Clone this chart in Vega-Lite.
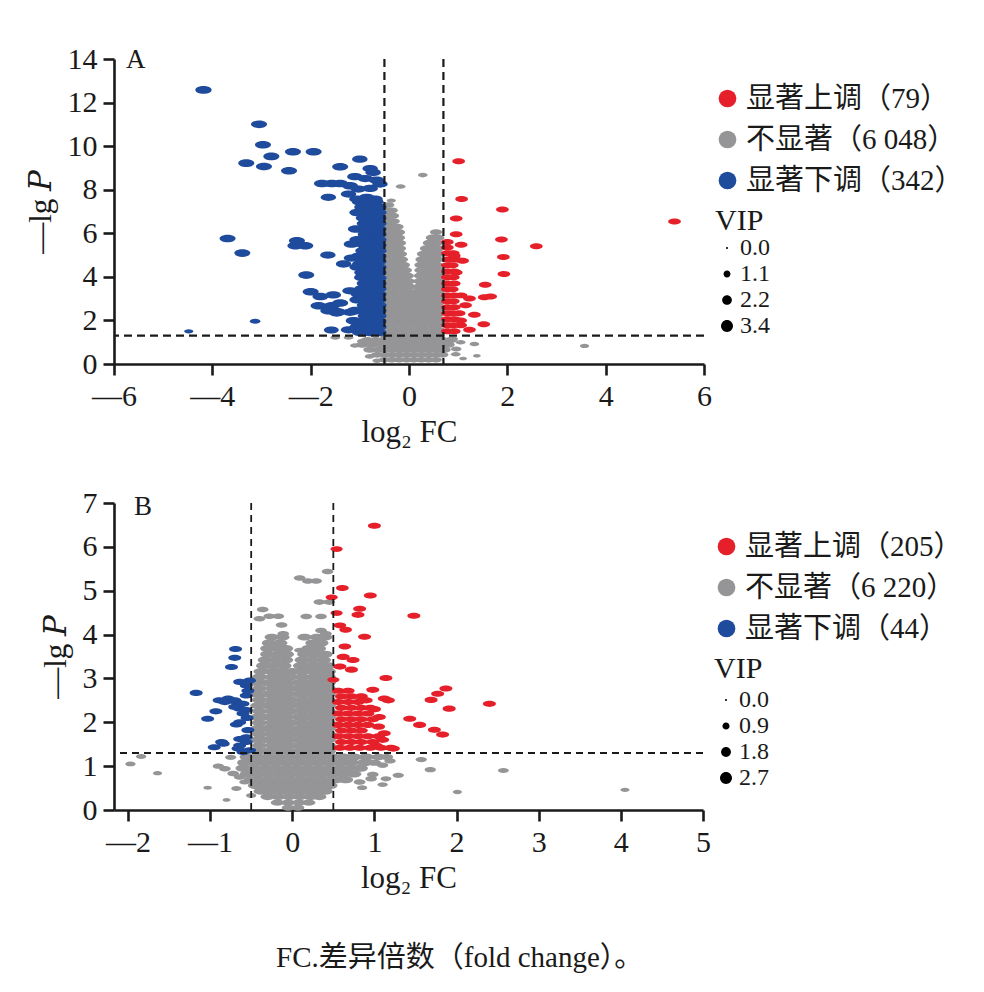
{
"$schema": "https://vega.github.io/schema/vega-lite/v6.json",
"background": "white",
"padding": {"left": 25, "top": 44, "right": 5, "bottom": 10},
"config": {
  "view": {"stroke": null},
  "font": "Liberation Serif",
  "axis": {"domainColor": "#1a1a1a", "domainWidth": 2.6, "tickColor": "#1a1a1a", "tickWidth": 2.6, "tickSize": 11, "labelFont": "Liberation Serif", "labelFontSize": 30, "labelColor": "#1a1a1a", "labelPadding": 6, "titleFont": "Liberation Serif, DejaVu Serif", "titleFontSize": 31, "titleFontWeight": "normal", "titleColor": "#1a1a1a", "grid": false, "labelFlush": false, "labelOverlap": false},
  "axisX": {"titlePadding": 6},
  "axisY": {"titlePadding": 10},
  "legend": {"labelFont": "Liberation Serif, Noto Sans CJK SC", "labelFontSize": 29, "labelColor": "#1a1a1a", "labelLimit": 0, "titleFont": "Liberation Serif", "titleFontSize": 30, "titleFontWeight": "normal", "titleColor": "#1a1a1a"}
},
"title": {"text": "FC.差异倍数（fold change）。", "orient": "bottom", "anchor": "start", "frame": "group", "dx": 162, "font": "Liberation Serif, Noto Sans CJK SC", "fontSize": 29, "fontWeight": "normal", "color": "#1a1a1a", "offset": 51},
"datasets": {
"a": [
{"x":-0.5,"y":0.2,"g":"n","v":1.5},{"x":-0.35,"y":0.2,"g":"n","v":1.5},{"x":-0.2,"y":0.2,"g":"n","v":1.5},{"x":-0.05,"y":0.2,"g":"n","v":1.5},{"x":0.1,"y":0.2,"g":"n","v":1.5},{"x":0.25,"y":0.2,"g":"n","v":1.5},{"x":0.4,"y":0.2,"g":"n","v":1.5},{"x":0.55,"y":0.2,"g":"n","v":1.5},
{"x":-0.65,"y":0.42,"g":"n","v":1.6},{"x":-0.5,"y":0.42,"g":"n","v":1.6},{"x":-0.35,"y":0.42,"g":"n","v":1.6},{"x":-0.2,"y":0.42,"g":"n","v":1.6},{"x":-0.05,"y":0.42,"g":"n","v":1.6},{"x":0.1,"y":0.42,"g":"n","v":1.6},{"x":0.25,"y":0.42,"g":"n","v":1.6},{"x":0.4,"y":0.42,"g":"n","v":1.6},{"x":0.55,"y":0.42,"g":"n","v":1.6},{"x":0.68,"y":0.42,"g":"n","v":1.6},
{"x":-0.8,"y":0.65,"g":"n","v":1.8},{"x":-0.62,"y":0.65,"g":"n","v":1.8},{"x":-0.47,"y":0.65,"g":"n","v":1.8},{"x":-0.32,"y":0.65,"g":"n","v":1.8},{"x":-0.17,"y":0.65,"g":"n","v":1.8},{"x":-0.02,"y":0.65,"g":"n","v":1.8},{"x":0.13,"y":0.65,"g":"n","v":1.8},{"x":0.28,"y":0.65,"g":"n","v":1.8},{"x":0.43,"y":0.65,"g":"n","v":1.8},{"x":0.58,"y":0.65,"g":"n","v":1.8},{"x":0.72,"y":0.65,"g":"n","v":1.8},
{"x":-0.95,"y":0.88,"g":"n","v":1.8},{"x":-0.75,"y":0.88,"g":"n","v":1.8},{"x":-0.55,"y":0.88,"g":"n","v":1.8},{"x":-0.4,"y":0.88,"g":"n","v":1.8},{"x":-0.25,"y":0.88,"g":"n","v":1.8},{"x":-0.1,"y":0.88,"g":"n","v":1.8},{"x":0.05,"y":0.88,"g":"n","v":1.8},{"x":0.2,"y":0.88,"g":"n","v":1.8},{"x":0.35,"y":0.88,"g":"n","v":1.8},{"x":0.5,"y":0.88,"g":"n","v":1.8},{"x":0.65,"y":0.88,"g":"n","v":1.8},{"x":0.8,"y":0.88,"g":"n","v":1.8},
{"x":-0.85,"y":1.1,"g":"n","v":1.8},{"x":-0.68,"y":1.1,"g":"n","v":1.8},{"x":-0.52,"y":1.1,"g":"n","v":1.8},{"x":-0.37,"y":1.1,"g":"n","v":1.8},{"x":-0.22,"y":1.1,"g":"n","v":1.8},{"x":-0.07,"y":1.1,"g":"n","v":1.8},{"x":0.08,"y":1.1,"g":"n","v":1.8},{"x":0.23,"y":1.1,"g":"n","v":1.8},{"x":0.38,"y":1.1,"g":"n","v":1.8},{"x":0.53,"y":1.1,"g":"n","v":1.8},{"x":0.68,"y":1.1,"g":"n","v":1.8},{"x":0.85,"y":1.1,"g":"n","v":1.8},
{"x":-0.45,"y":1.32,"g":"n","v":2.1},{"x":-0.3,"y":1.32,"g":"n","v":2.1},{"x":-0.15,"y":1.32,"g":"n","v":2.1},{"x":0,"y":1.32,"g":"n","v":2.1},{"x":0.15,"y":1.32,"g":"n","v":2.1},{"x":0.3,"y":1.32,"g":"n","v":2.1},{"x":0.45,"y":1.32,"g":"n","v":2.1},{"x":0.58,"y":1.32,"g":"n","v":2.1},
{"x":-0.43,"y":1.55,"g":"n","v":2.1},{"x":-0.28,"y":1.55,"g":"n","v":2.1},{"x":-0.13,"y":1.55,"g":"n","v":2.1},{"x":0.02,"y":1.55,"g":"n","v":2.1},{"x":0.17,"y":1.55,"g":"n","v":2.1},{"x":0.32,"y":1.55,"g":"n","v":2.1},{"x":0.47,"y":1.55,"g":"n","v":2.1},{"x":0.6,"y":1.55,"g":"n","v":2.1},
{"x":-0.45,"y":1.8,"g":"n","v":2.1},{"x":-0.3,"y":1.8,"g":"n","v":2.1},{"x":-0.15,"y":1.8,"g":"n","v":2.1},{"x":0,"y":1.8,"g":"n","v":2.1},{"x":0.15,"y":1.8,"g":"n","v":2.1},{"x":0.3,"y":1.8,"g":"n","v":2.1},{"x":0.45,"y":1.8,"g":"n","v":2.1},{"x":0.58,"y":1.8,"g":"n","v":2.1},
{"x":-0.43,"y":2.05,"g":"n","v":2.1},{"x":-0.28,"y":2.05,"g":"n","v":2.1},{"x":-0.13,"y":2.05,"g":"n","v":2.1},{"x":0.02,"y":2.05,"g":"n","v":2.1},{"x":0.17,"y":2.05,"g":"n","v":2.1},{"x":0.32,"y":2.05,"g":"n","v":2.1},{"x":0.47,"y":2.05,"g":"n","v":2.1},{"x":0.6,"y":2.05,"g":"n","v":2.1},
{"x":-0.45,"y":2.3,"g":"n","v":2.1},{"x":-0.3,"y":2.3,"g":"n","v":2.1},{"x":-0.15,"y":2.3,"g":"n","v":2.1},{"x":0,"y":2.3,"g":"n","v":2.1},{"x":0.15,"y":2.3,"g":"n","v":2.1},{"x":0.3,"y":2.3,"g":"n","v":2.1},{"x":0.45,"y":2.3,"g":"n","v":2.1},{"x":0.58,"y":2.3,"g":"n","v":2.1},
{"x":-0.43,"y":2.55,"g":"n","v":2.1},{"x":-0.28,"y":2.55,"g":"n","v":2.1},{"x":-0.13,"y":2.55,"g":"n","v":2.1},{"x":0.02,"y":2.55,"g":"n","v":2.1},{"x":0.17,"y":2.55,"g":"n","v":2.1},{"x":0.32,"y":2.55,"g":"n","v":2.1},{"x":0.47,"y":2.55,"g":"n","v":2.1},{"x":0.6,"y":2.55,"g":"n","v":2.1},
{"x":-0.45,"y":2.8,"g":"n","v":2.1},{"x":-0.3,"y":2.8,"g":"n","v":2.1},{"x":-0.15,"y":2.8,"g":"n","v":2.1},{"x":0,"y":2.8,"g":"n","v":2.1},{"x":0.15,"y":2.8,"g":"n","v":2.1},{"x":0.3,"y":2.8,"g":"n","v":2.1},{"x":0.45,"y":2.8,"g":"n","v":2.1},{"x":0.58,"y":2.8,"g":"n","v":2.1},
{"x":-0.43,"y":3.05,"g":"n","v":2.1},{"x":-0.28,"y":3.05,"g":"n","v":2.1},{"x":-0.13,"y":3.05,"g":"n","v":2.1},{"x":0.02,"y":3.05,"g":"n","v":2.1},{"x":0.17,"y":3.05,"g":"n","v":2.1},{"x":0.32,"y":3.05,"g":"n","v":2.1},{"x":0.47,"y":3.05,"g":"n","v":2.1},{"x":0.6,"y":3.05,"g":"n","v":2.1},
{"x":-0.45,"y":3.3,"g":"n","v":2.1},{"x":-0.3,"y":3.3,"g":"n","v":2.1},{"x":-0.15,"y":3.3,"g":"n","v":2.1},{"x":0,"y":3.3,"g":"n","v":2.1},{"x":0.15,"y":3.3,"g":"n","v":2.1},{"x":0.3,"y":3.3,"g":"n","v":2.1},{"x":0.45,"y":3.3,"g":"n","v":2.1},{"x":0.58,"y":3.3,"g":"n","v":2.1},
{"x":-0.43,"y":3.55,"g":"n","v":2.1},{"x":-0.28,"y":3.55,"g":"n","v":2.1},{"x":-0.13,"y":3.55,"g":"n","v":2.1},{"x":0,"y":3.55,"g":"n","v":2.1},{"x":0.22,"y":3.55,"g":"n","v":2.1},{"x":0.36,"y":3.55,"g":"n","v":2.1},{"x":0.5,"y":3.55,"g":"n","v":2.1},{"x":0.6,"y":3.55,"g":"n","v":2.1},
{"x":-0.45,"y":3.8,"g":"n","v":2.1},{"x":-0.3,"y":3.8,"g":"n","v":2.1},{"x":-0.15,"y":3.8,"g":"n","v":2.1},{"x":-0.02,"y":3.8,"g":"n","v":2.1},{"x":0.23,"y":3.8,"g":"n","v":2.1},{"x":0.38,"y":3.8,"g":"n","v":2.1},{"x":0.52,"y":3.8,"g":"n","v":2.1},{"x":0.6,"y":3.8,"g":"n","v":2.1},
{"x":-0.43,"y":4.05,"g":"n","v":2.1},{"x":-0.28,"y":4.05,"g":"n","v":2.1},{"x":-0.13,"y":4.05,"g":"n","v":2.1},{"x":-0.04,"y":4.05,"g":"n","v":2.1},{"x":0.24,"y":4.05,"g":"n","v":2.1},{"x":0.38,"y":4.05,"g":"n","v":2.1},{"x":0.52,"y":4.05,"g":"n","v":2.1},{"x":0.6,"y":4.05,"g":"n","v":2.1},
{"x":-0.45,"y":4.3,"g":"n","v":2.1},{"x":-0.3,"y":4.3,"g":"n","v":2.1},{"x":-0.15,"y":4.3,"g":"n","v":2.1},{"x":-0.08,"y":4.3,"g":"n","v":2.1},{"x":0.25,"y":4.3,"g":"n","v":2.1},{"x":0.4,"y":4.3,"g":"n","v":2.1},{"x":0.53,"y":4.3,"g":"n","v":2.1},{"x":0.6,"y":4.3,"g":"n","v":2.1},
{"x":-0.43,"y":4.55,"g":"n","v":2.1},{"x":-0.28,"y":4.55,"g":"n","v":2.1},{"x":-0.12,"y":4.55,"g":"n","v":2.1},{"x":0.25,"y":4.55,"g":"n","v":2.1},{"x":0.4,"y":4.55,"g":"n","v":2.1},{"x":0.55,"y":4.55,"g":"n","v":2.1},
{"x":-0.45,"y":4.8,"g":"n","v":2.1},{"x":-0.3,"y":4.8,"g":"n","v":2.1},{"x":-0.16,"y":4.8,"g":"n","v":2.1},{"x":0.27,"y":4.8,"g":"n","v":2.1},{"x":0.42,"y":4.8,"g":"n","v":2.1},{"x":0.56,"y":4.8,"g":"n","v":2.1},
{"x":-0.43,"y":5.05,"g":"n","v":2.1},{"x":-0.28,"y":5.05,"g":"n","v":2.1},{"x":-0.18,"y":5.05,"g":"n","v":2.1},{"x":0.3,"y":5.05,"g":"n","v":2.1},{"x":0.44,"y":5.05,"g":"n","v":2.1},{"x":0.58,"y":5.05,"g":"n","v":2.1},
{"x":-0.45,"y":5.3,"g":"n","v":2.1},{"x":-0.32,"y":5.3,"g":"n","v":2.1},{"x":-0.2,"y":5.3,"g":"n","v":2.1},{"x":0.36,"y":5.3,"g":"n","v":2.1},{"x":0.48,"y":5.3,"g":"n","v":2.1},{"x":0.58,"y":5.3,"g":"n","v":2.1},
{"x":-0.43,"y":5.55,"g":"n","v":2.1},{"x":-0.3,"y":5.55,"g":"n","v":2.1},{"x":-0.2,"y":5.55,"g":"n","v":2.1},{"x":0.42,"y":5.55,"g":"n","v":2.1},{"x":0.55,"y":5.55,"g":"n","v":2.1},
{"x":-0.45,"y":5.8,"g":"n","v":2.1},{"x":-0.32,"y":5.8,"g":"n","v":2.1},{"x":-0.22,"y":5.8,"g":"n","v":2.1},{"x":0.48,"y":5.8,"g":"n","v":2.1},{"x":0.58,"y":5.8,"g":"n","v":2.1},
{"x":-0.43,"y":6.05,"g":"n","v":2.1},{"x":-0.3,"y":6.05,"g":"n","v":2.1},{"x":-0.22,"y":6.05,"g":"n","v":2.1},{"x":0.55,"y":6.05,"g":"n","v":1.6},
{"x":-0.45,"y":6.3,"g":"n","v":2.1},{"x":-0.33,"y":6.3,"g":"n","v":2.1},{"x":-0.24,"y":6.3,"g":"n","v":1.8},
{"x":-0.43,"y":6.55,"g":"n","v":2.1},{"x":-0.32,"y":6.55,"g":"n","v":1.9},
{"x":-0.44,"y":6.8,"g":"n","v":1.9},{"x":-0.33,"y":6.8,"g":"n","v":1.8},
{"x":-0.43,"y":7.05,"g":"n","v":1.8},{"x":-0.35,"y":7.05,"g":"n","v":1.6},
{"x":-0.42,"y":7.3,"g":"n","v":1.6},
{"x":0.28,"y":8.67,"g":"n","v":1.0},{"x":-0.17,"y":8.15,"g":"n","v":1.0},{"x":-0.36,"y":7.5,"g":"n","v":0.9},
{"x":-1.5,"y":1.22,"g":"n","v":1.0},{"x":-1.23,"y":1.22,"g":"n","v":1.0},{"x":-0.95,"y":1.05,"g":"n","v":1.2},{"x":-1.1,"y":0.85,"g":"n","v":1.0},{"x":1.33,"y":0.92,"g":"n","v":1.0},{"x":1.38,"y":0.38,"g":"n","v":0.6},{"x":3.57,"y":0.83,"g":"n","v":0.9},{"x":0.96,"y":0.69,"g":"n","v":1.2},{"x":0.89,"y":1.15,"g":"n","v":1.2},{"x":1.05,"y":1.0,"g":"n","v":1.0},{"x":0.95,"y":0.45,"g":"n","v":1.0},{"x":1.1,"y":0.25,"g":"n","v":0.6},{"x":-0.8,"y":0.35,"g":"n","v":1.0},{"x":-0.65,"y":0.15,"g":"n","v":0.9},
{"x":-0.62,"y":1.45,"g":"d","v":2.9},{"x":-0.78,"y":1.45,"g":"d","v":2.9},{"x":-0.95,"y":1.45,"g":"d","v":2.9},
{"x":-0.62,"y":1.7,"g":"d","v":2.9},{"x":-0.75,"y":1.7,"g":"d","v":2.9},{"x":-0.9,"y":1.7,"g":"d","v":2.9},{"x":-1.05,"y":1.7,"g":"d","v":2.9},
{"x":-0.62,"y":1.95,"g":"d","v":2.9},{"x":-0.76,"y":1.95,"g":"d","v":2.9},{"x":-0.92,"y":1.95,"g":"d","v":2.9},{"x":-1.08,"y":1.95,"g":"d","v":2.9},
{"x":-0.62,"y":2.2,"g":"d","v":2.9},{"x":-0.75,"y":2.2,"g":"d","v":2.9},{"x":-0.88,"y":2.2,"g":"d","v":2.9},
{"x":-0.62,"y":2.45,"g":"d","v":2.9},{"x":-0.78,"y":2.45,"g":"d","v":2.9},{"x":-0.93,"y":2.45,"g":"d","v":2.9},{"x":-1.1,"y":2.45,"g":"d","v":2.9},
{"x":-0.62,"y":2.7,"g":"d","v":2.9},{"x":-0.75,"y":2.7,"g":"d","v":2.9},{"x":-0.9,"y":2.7,"g":"d","v":2.9},
{"x":-0.62,"y":2.95,"g":"d","v":2.9},{"x":-0.76,"y":2.95,"g":"d","v":2.9},{"x":-0.92,"y":2.95,"g":"d","v":2.9},{"x":-1.05,"y":2.95,"g":"d","v":2.9},
{"x":-0.62,"y":3.2,"g":"d","v":2.9},{"x":-0.75,"y":3.2,"g":"d","v":2.9},{"x":-0.88,"y":3.2,"g":"d","v":2.9},{"x":-1.02,"y":3.2,"g":"d","v":2.9},
{"x":-0.62,"y":3.45,"g":"d","v":2.9},{"x":-0.78,"y":3.45,"g":"d","v":2.9},{"x":-0.95,"y":3.45,"g":"d","v":2.9},
{"x":-0.62,"y":3.7,"g":"d","v":2.9},{"x":-0.75,"y":3.7,"g":"d","v":2.9},{"x":-0.9,"y":3.7,"g":"d","v":2.9},
{"x":-0.62,"y":3.95,"g":"d","v":2.9},{"x":-0.76,"y":3.95,"g":"d","v":2.9},{"x":-0.88,"y":3.95,"g":"d","v":2.9},
{"x":-0.62,"y":4.2,"g":"d","v":2.9},{"x":-0.78,"y":4.2,"g":"d","v":2.9},{"x":-0.95,"y":4.2,"g":"d","v":2.9},
{"x":-0.62,"y":4.45,"g":"d","v":2.9},{"x":-0.75,"y":4.45,"g":"d","v":2.9},{"x":-0.9,"y":4.45,"g":"d","v":2.9},{"x":-1.05,"y":4.45,"g":"d","v":2.9},
{"x":-0.62,"y":4.7,"g":"d","v":2.9},{"x":-0.76,"y":4.7,"g":"d","v":2.9},{"x":-0.92,"y":4.7,"g":"d","v":2.9},
{"x":-0.62,"y":4.95,"g":"d","v":2.9},{"x":-0.75,"y":4.95,"g":"d","v":2.9},{"x":-0.88,"y":4.95,"g":"d","v":2.9},{"x":-1.02,"y":4.95,"g":"d","v":2.9},
{"x":-0.62,"y":5.2,"g":"d","v":2.9},{"x":-0.78,"y":5.2,"g":"d","v":2.9},{"x":-0.93,"y":5.2,"g":"d","v":2.9},
{"x":-0.62,"y":5.45,"g":"d","v":2.9},{"x":-0.75,"y":5.45,"g":"d","v":2.9},{"x":-0.9,"y":5.45,"g":"d","v":2.9},
{"x":-0.62,"y":5.7,"g":"d","v":2.9},{"x":-0.76,"y":5.7,"g":"d","v":2.9},{"x":-0.92,"y":5.7,"g":"d","v":2.9},{"x":-1.05,"y":5.7,"g":"d","v":2.9},
{"x":-0.62,"y":5.95,"g":"d","v":2.9},{"x":-0.75,"y":5.95,"g":"d","v":2.9},{"x":-0.88,"y":5.95,"g":"d","v":2.9},
{"x":-0.62,"y":6.2,"g":"d","v":2.9},{"x":-0.78,"y":6.2,"g":"d","v":2.9},{"x":-0.95,"y":6.2,"g":"d","v":2.9},{"x":-1.08,"y":6.2,"g":"d","v":2.9},
{"x":-0.62,"y":6.45,"g":"d","v":2.9},{"x":-0.75,"y":6.45,"g":"d","v":2.9},{"x":-0.9,"y":6.45,"g":"d","v":2.9},
{"x":-0.62,"y":6.7,"g":"d","v":2.9},{"x":-0.76,"y":6.7,"g":"d","v":2.9},{"x":-0.92,"y":6.7,"g":"d","v":2.9},
{"x":-0.62,"y":6.95,"g":"d","v":2.9},{"x":-0.75,"y":6.95,"g":"d","v":2.9},{"x":-0.9,"y":6.95,"g":"d","v":2.9},{"x":-1.05,"y":6.95,"g":"d","v":2.9},
{"x":-0.62,"y":7.2,"g":"d","v":2.9},{"x":-0.78,"y":7.2,"g":"d","v":2.9},{"x":-0.95,"y":7.2,"g":"d","v":2.9},
{"x":-0.68,"y":7.45,"g":"d","v":2.9},{"x":-0.85,"y":7.45,"g":"d","v":2.9},{"x":-1.0,"y":7.45,"g":"d","v":2.9},
{"x":-4.18,"y":12.58,"g":"d","v":3.0},{"x":-3.05,"y":11.0,"g":"d","v":2.9},{"x":-2.97,"y":10.06,"g":"d","v":2.9},{"x":-2.8,"y":9.53,"g":"d","v":2.9},{"x":-3.31,"y":9.22,"g":"d","v":2.9},{"x":-2.95,"y":9.07,"g":"d","v":2.9},{"x":-2.36,"y":9.74,"g":"d","v":2.9},{"x":-1.94,"y":9.74,"g":"d","v":2.9},{"x":-2.44,"y":8.87,"g":"d","v":2.9},{"x":-1.4,"y":9.05,"g":"d","v":2.9},{"x":-1.0,"y":9.4,"g":"d","v":2.7},{"x":-1.77,"y":8.29,"g":"d","v":2.9},{"x":-1.57,"y":8.29,"g":"d","v":2.9},{"x":-1.4,"y":8.29,"g":"d","v":2.9},{"x":-1.64,"y":7.65,"g":"d","v":2.7},{"x":-3.69,"y":5.76,"g":"d","v":2.9},{"x":-3.39,"y":5.09,"g":"d","v":2.9},{"x":-2.28,"y":5.66,"g":"d","v":2.9},{"x":-2.31,"y":5.43,"g":"d","v":2.9},{"x":-2.11,"y":5.43,"g":"d","v":2.9},{"x":-1.65,"y":5.0,"g":"d","v":2.7},{"x":-1.33,"y":4.59,"g":"d","v":2.7},{"x":-1.17,"y":4.86,"g":"d","v":2.7},{"x":-2.09,"y":4.08,"g":"d","v":2.9},{"x":-2.0,"y":3.32,"g":"d","v":2.9},{"x":-1.8,"y":3.1,"g":"d","v":2.9},{"x":-1.54,"y":3.17,"g":"d","v":2.7},{"x":-1.84,"y":2.67,"g":"d","v":2.9},{"x":-1.57,"y":2.67,"g":"d","v":2.9},{"x":-1.4,"y":2.8,"g":"d","v":2.9},{"x":-1.45,"y":2.4,"g":"d","v":2.9},{"x":-1.64,"y":2.45,"g":"d","v":2.9},{"x":-1.47,"y":2.34,"g":"d","v":2.7},{"x":-3.13,"y":1.96,"g":"d","v":1.2},{"x":-4.48,"y":1.5,"g":"d","v":0.9},{"x":-1.58,"y":1.56,"g":"d","v":2.5},{"x":-1.23,"y":1.57,"g":"d","v":2.7},{"x":-0.79,"y":8.97,"g":"d","v":2.7},{"x":-0.73,"y":8.79,"g":"d","v":2.7},{"x":-1.1,"y":8.6,"g":"d","v":2.7},{"x":-0.89,"y":8.51,"g":"d","v":2.7},{"x":-0.66,"y":8.44,"g":"d","v":2.7},{"x":-1.2,"y":8.18,"g":"d","v":2.9},{"x":-1.03,"y":8.03,"g":"d","v":2.7},{"x":-0.79,"y":8.06,"g":"d","v":2.7},{"x":-0.59,"y":8.26,"g":"d","v":2.7},{"x":-1.23,"y":7.8,"g":"d","v":2.7},{"x":-1.06,"y":7.57,"g":"d","v":2.7},{"x":-0.86,"y":7.65,"g":"d","v":2.7},{"x":-0.69,"y":7.57,"g":"d","v":2.7},{"x":-1.17,"y":5.5,"g":"d","v":2.7},{"x":-1.0,"y":4.59,"g":"d","v":2.7},{"x":-0.96,"y":3.97,"g":"d","v":2.7},{"x":-1.2,"y":3.36,"g":"d","v":2.7},{"x":-1.13,"y":1.99,"g":"d","v":2.7},{"x":-1.2,"y":2.37,"g":"d","v":2.7},{"x":-1.0,"y":1.45,"g":"d","v":2.7},
{"x":0.78,"y":1.5,"g":"u","v":1.8},{"x":0.92,"y":1.5,"g":"u","v":1.8},
{"x":0.78,"y":1.78,"g":"u","v":1.8},{"x":0.9,"y":1.78,"g":"u","v":1.8},{"x":1.05,"y":1.78,"g":"u","v":1.8},
{"x":0.78,"y":2.05,"g":"u","v":1.8},{"x":0.92,"y":2.05,"g":"u","v":1.8},
{"x":0.78,"y":2.33,"g":"u","v":1.8},{"x":0.88,"y":2.33,"g":"u","v":1.8},{"x":1.02,"y":2.33,"g":"u","v":1.8},
{"x":0.78,"y":2.6,"g":"u","v":1.8},{"x":0.92,"y":2.6,"g":"u","v":1.8},
{"x":0.78,"y":2.88,"g":"u","v":1.8},{"x":0.9,"y":2.88,"g":"u","v":1.8},
{"x":0.78,"y":3.15,"g":"u","v":1.8},{"x":0.92,"y":3.15,"g":"u","v":1.8},{"x":1.06,"y":3.15,"g":"u","v":1.8},
{"x":0.78,"y":3.43,"g":"u","v":1.8},{"x":0.88,"y":3.43,"g":"u","v":1.8},
{"x":0.78,"y":3.7,"g":"u","v":1.8},{"x":0.92,"y":3.7,"g":"u","v":1.8},
{"x":0.78,"y":3.98,"g":"u","v":1.8},{"x":0.9,"y":3.98,"g":"u","v":1.8},
{"x":0.78,"y":4.25,"g":"u","v":1.8},{"x":0.92,"y":4.25,"g":"u","v":1.8},
{"x":0.78,"y":4.53,"g":"u","v":1.8},{"x":0.88,"y":4.53,"g":"u","v":1.8},
{"x":0.8,"y":4.8,"g":"u","v":1.8},{"x":0.95,"y":4.8,"g":"u","v":1.8},
{"x":0.78,"y":5.08,"g":"u","v":1.8},{"x":0.9,"y":5.08,"g":"u","v":1.8},
{"x":0.78,"y":5.35,"g":"u","v":1.8},{"x":0.78,"y":5.6,"g":"u","v":1.8},
{"x":1.01,"y":9.31,"g":"u","v":1.8},{"x":1.07,"y":7.57,"g":"u","v":1.8},{"x":1.9,"y":7.09,"g":"u","v":1.8},{"x":0.96,"y":6.68,"g":"u","v":1.8},{"x":5.4,"y":6.54,"g":"u","v":1.8},{"x":0.96,"y":5.96,"g":"u","v":1.8},{"x":1.06,"y":5.47,"g":"u","v":1.8},{"x":1.88,"y":5.72,"g":"u","v":1.8},{"x":2.59,"y":5.4,"g":"u","v":1.8},{"x":1.92,"y":4.91,"g":"u","v":1.8},{"x":1.93,"y":4.13,"g":"u","v":1.8},{"x":1.55,"y":3.64,"g":"u","v":1.8},{"x":1.53,"y":3.06,"g":"u","v":1.8},{"x":1.66,"y":3.1,"g":"u","v":1.8},{"x":1.23,"y":3.01,"g":"u","v":1.8},{"x":1.33,"y":2.26,"g":"u","v":1.8},{"x":1.52,"y":1.83,"g":"u","v":1.8},{"x":1.23,"y":1.57,"g":"u","v":1.8},{"x":0.92,"y":4.97,"g":"u","v":1.8},{"x":1.09,"y":4.74,"g":"u","v":1.8},{"x":0.96,"y":4.2,"g":"u","v":1.8},{"x":1.15,"y":2.7,"g":"u","v":1.8},{"x":1.05,"y":2.0,"g":"u","v":1.8}
],
"b": [
{"x":-0.05,"y":0.05,"g":"n","v":1.4},{"x":0.07,"y":0.05,"g":"n","v":1.4},
{"x":-0.18,"y":0.17,"g":"n","v":1.6},{"x":-0.05,"y":0.17,"g":"n","v":1.6},{"x":0.08,"y":0.17,"g":"n","v":1.6},{"x":0.2,"y":0.17,"g":"n","v":1.6},
{"x":-0.3,"y":0.3,"g":"n","v":1.8},{"x":-0.17,"y":0.3,"g":"n","v":1.8},{"x":-0.04,"y":0.3,"g":"n","v":1.8},{"x":0.09,"y":0.3,"g":"n","v":1.8},{"x":0.22,"y":0.3,"g":"n","v":1.8},{"x":0.33,"y":0.3,"g":"n","v":1.8},
{"x":-0.38,"y":0.43,"g":"n","v":2.0},{"x":-0.25,"y":0.43,"g":"n","v":2.0},{"x":-0.12,"y":0.43,"g":"n","v":2.0},{"x":0.01,"y":0.43,"g":"n","v":2.0},{"x":0.14,"y":0.43,"g":"n","v":2.0},{"x":0.27,"y":0.43,"g":"n","v":2.0},{"x":0.4,"y":0.43,"g":"n","v":2.0},
{"x":-0.45,"y":0.56,"g":"n","v":2.0},{"x":-0.32,"y":0.56,"g":"n","v":2.0},{"x":-0.19,"y":0.56,"g":"n","v":2.0},{"x":-0.06,"y":0.56,"g":"n","v":2.0},{"x":0.07,"y":0.56,"g":"n","v":2.0},{"x":0.2,"y":0.56,"g":"n","v":2.0},{"x":0.33,"y":0.56,"g":"n","v":2.0},{"x":0.46,"y":0.56,"g":"n","v":2.0},
{"x":-0.5,"y":0.69,"g":"n","v":2.0},{"x":-0.38,"y":0.69,"g":"n","v":2.0},{"x":-0.25,"y":0.69,"g":"n","v":2.0},{"x":-0.12,"y":0.69,"g":"n","v":2.0},{"x":0.01,"y":0.69,"g":"n","v":2.0},{"x":0.14,"y":0.69,"g":"n","v":2.0},{"x":0.27,"y":0.69,"g":"n","v":2.0},{"x":0.4,"y":0.69,"g":"n","v":2.0},{"x":0.53,"y":0.69,"g":"n","v":2.0},{"x":0.65,"y":0.69,"g":"n","v":2.0},
{"x":-0.55,"y":0.82,"g":"n","v":2.0},{"x":-0.42,"y":0.82,"g":"n","v":2.0},{"x":-0.29,"y":0.82,"g":"n","v":2.0},{"x":-0.16,"y":0.82,"g":"n","v":2.0},{"x":-0.03,"y":0.82,"g":"n","v":2.0},{"x":0.1,"y":0.82,"g":"n","v":2.0},{"x":0.23,"y":0.82,"g":"n","v":2.0},{"x":0.36,"y":0.82,"g":"n","v":2.0},{"x":0.49,"y":0.82,"g":"n","v":2.0},{"x":0.62,"y":0.82,"g":"n","v":2.0},{"x":0.75,"y":0.82,"g":"n","v":2.0},
{"x":-0.6,"y":0.95,"g":"n","v":2.0},{"x":-0.47,"y":0.95,"g":"n","v":2.0},{"x":-0.34,"y":0.95,"g":"n","v":2.0},{"x":-0.21,"y":0.95,"g":"n","v":2.0},{"x":-0.08,"y":0.95,"g":"n","v":2.0},{"x":0.05,"y":0.95,"g":"n","v":2.0},{"x":0.18,"y":0.95,"g":"n","v":2.0},{"x":0.31,"y":0.95,"g":"n","v":2.0},{"x":0.44,"y":0.95,"g":"n","v":2.0},{"x":0.57,"y":0.95,"g":"n","v":2.0},{"x":0.7,"y":0.95,"g":"n","v":2.0},{"x":0.83,"y":0.95,"g":"n","v":2.0},
{"x":-0.58,"y":1.08,"g":"n","v":2.0},{"x":-0.45,"y":1.08,"g":"n","v":2.0},{"x":-0.32,"y":1.08,"g":"n","v":2.0},{"x":-0.19,"y":1.08,"g":"n","v":2.0},{"x":-0.06,"y":1.08,"g":"n","v":2.0},{"x":0.07,"y":1.08,"g":"n","v":2.0},{"x":0.2,"y":1.08,"g":"n","v":2.0},{"x":0.33,"y":1.08,"g":"n","v":2.0},{"x":0.46,"y":1.08,"g":"n","v":2.0},{"x":0.59,"y":1.08,"g":"n","v":2.0},{"x":0.72,"y":1.08,"g":"n","v":2.0},{"x":0.88,"y":1.08,"g":"n","v":2.0},{"x":1.0,"y":1.08,"g":"n","v":1.6},
{"x":-0.55,"y":1.21,"g":"n","v":2.0},{"x":-0.42,"y":1.21,"g":"n","v":2.0},{"x":-0.29,"y":1.21,"g":"n","v":2.0},{"x":-0.16,"y":1.21,"g":"n","v":2.0},{"x":-0.03,"y":1.21,"g":"n","v":2.0},{"x":0.1,"y":1.21,"g":"n","v":2.0},{"x":0.23,"y":1.21,"g":"n","v":2.0},{"x":0.36,"y":1.21,"g":"n","v":2.0},{"x":0.49,"y":1.21,"g":"n","v":2.0},{"x":0.62,"y":1.21,"g":"n","v":2.0},{"x":0.75,"y":1.21,"g":"n","v":2.0},{"x":0.9,"y":1.21,"g":"n","v":2.0},{"x":1.05,"y":1.21,"g":"n","v":1.6},{"x":1.15,"y":1.21,"g":"n","v":1.4},
{"x":-0.42,"y":1.34,"g":"n","v":2.0},{"x":-0.3,"y":1.34,"g":"n","v":2.0},{"x":-0.18,"y":1.34,"g":"n","v":2.0},{"x":-0.06,"y":1.34,"g":"n","v":2.0},{"x":0.08,"y":1.34,"g":"n","v":2.0},{"x":0.2,"y":1.34,"g":"n","v":2.0},{"x":0.32,"y":1.34,"g":"n","v":2.0},{"x":0.44,"y":1.34,"g":"n","v":2.0},
{"x":-0.4,"y":1.47,"g":"n","v":2.0},{"x":-0.24,"y":1.47,"g":"n","v":2.0},{"x":-0.12,"y":1.47,"g":"n","v":2.0},{"x":-0.02,"y":1.47,"g":"n","v":2.0},{"x":0.12,"y":1.47,"g":"n","v":2.0},{"x":0.26,"y":1.47,"g":"n","v":2.0},{"x":0.38,"y":1.47,"g":"n","v":2.0},{"x":0.44,"y":1.47,"g":"n","v":2.0},
{"x":-0.42,"y":1.6,"g":"n","v":2.0},{"x":-0.3,"y":1.6,"g":"n","v":2.0},{"x":-0.18,"y":1.6,"g":"n","v":2.0},{"x":-0.06,"y":1.6,"g":"n","v":2.0},{"x":0.08,"y":1.6,"g":"n","v":2.0},{"x":0.2,"y":1.6,"g":"n","v":2.0},{"x":0.32,"y":1.6,"g":"n","v":2.0},{"x":0.44,"y":1.6,"g":"n","v":2.0},
{"x":-0.4,"y":1.73,"g":"n","v":2.0},{"x":-0.24,"y":1.73,"g":"n","v":2.0},{"x":-0.12,"y":1.73,"g":"n","v":2.0},{"x":-0.02,"y":1.73,"g":"n","v":2.0},{"x":0.12,"y":1.73,"g":"n","v":2.0},{"x":0.26,"y":1.73,"g":"n","v":2.0},{"x":0.38,"y":1.73,"g":"n","v":2.0},{"x":0.44,"y":1.73,"g":"n","v":2.0},
{"x":-0.42,"y":1.86,"g":"n","v":2.0},{"x":-0.3,"y":1.86,"g":"n","v":2.0},{"x":-0.18,"y":1.86,"g":"n","v":2.0},{"x":-0.06,"y":1.86,"g":"n","v":2.0},{"x":0.08,"y":1.86,"g":"n","v":2.0},{"x":0.2,"y":1.86,"g":"n","v":2.0},{"x":0.32,"y":1.86,"g":"n","v":2.0},{"x":0.44,"y":1.86,"g":"n","v":2.0},
{"x":-0.4,"y":1.99,"g":"n","v":2.0},{"x":-0.24,"y":1.99,"g":"n","v":2.0},{"x":-0.12,"y":1.99,"g":"n","v":2.0},{"x":-0.02,"y":1.99,"g":"n","v":2.0},{"x":0.12,"y":1.99,"g":"n","v":2.0},{"x":0.26,"y":1.99,"g":"n","v":2.0},{"x":0.38,"y":1.99,"g":"n","v":2.0},{"x":0.44,"y":1.99,"g":"n","v":2.0},
{"x":-0.42,"y":2.12,"g":"n","v":2.0},{"x":-0.3,"y":2.12,"g":"n","v":2.0},{"x":-0.18,"y":2.12,"g":"n","v":2.0},{"x":-0.06,"y":2.12,"g":"n","v":2.0},{"x":0.08,"y":2.12,"g":"n","v":2.0},{"x":0.2,"y":2.12,"g":"n","v":2.0},{"x":0.32,"y":2.12,"g":"n","v":2.0},{"x":0.44,"y":2.12,"g":"n","v":2.0},
{"x":-0.4,"y":2.25,"g":"n","v":2.0},{"x":-0.24,"y":2.25,"g":"n","v":2.0},{"x":-0.12,"y":2.25,"g":"n","v":2.0},{"x":-0.02,"y":2.25,"g":"n","v":2.0},{"x":0.12,"y":2.25,"g":"n","v":2.0},{"x":0.26,"y":2.25,"g":"n","v":2.0},{"x":0.38,"y":2.25,"g":"n","v":2.0},{"x":0.44,"y":2.25,"g":"n","v":2.0},
{"x":-0.42,"y":2.38,"g":"n","v":2.0},{"x":-0.3,"y":2.38,"g":"n","v":2.0},{"x":-0.18,"y":2.38,"g":"n","v":2.0},{"x":-0.06,"y":2.38,"g":"n","v":2.0},{"x":0.08,"y":2.38,"g":"n","v":2.0},{"x":0.2,"y":2.38,"g":"n","v":2.0},{"x":0.32,"y":2.38,"g":"n","v":2.0},{"x":0.44,"y":2.38,"g":"n","v":2.0},
{"x":-0.4,"y":2.51,"g":"n","v":2.0},{"x":-0.24,"y":2.51,"g":"n","v":2.0},{"x":-0.12,"y":2.51,"g":"n","v":2.0},{"x":-0.02,"y":2.51,"g":"n","v":2.0},{"x":0.12,"y":2.51,"g":"n","v":2.0},{"x":0.26,"y":2.51,"g":"n","v":2.0},{"x":0.38,"y":2.51,"g":"n","v":2.0},{"x":0.44,"y":2.51,"g":"n","v":2.0},
{"x":-0.42,"y":2.64,"g":"n","v":2.0},{"x":-0.3,"y":2.64,"g":"n","v":2.0},{"x":-0.18,"y":2.64,"g":"n","v":2.0},{"x":-0.06,"y":2.64,"g":"n","v":2.0},{"x":0.08,"y":2.64,"g":"n","v":2.0},{"x":0.2,"y":2.64,"g":"n","v":2.0},{"x":0.32,"y":2.64,"g":"n","v":2.0},{"x":0.44,"y":2.64,"g":"n","v":2.0},
{"x":-0.4,"y":2.77,"g":"n","v":2.0},{"x":-0.24,"y":2.77,"g":"n","v":2.0},{"x":-0.12,"y":2.77,"g":"n","v":2.0},{"x":-0.02,"y":2.77,"g":"n","v":2.0},{"x":0.12,"y":2.77,"g":"n","v":2.0},{"x":0.26,"y":2.77,"g":"n","v":2.0},{"x":0.38,"y":2.77,"g":"n","v":2.0},{"x":0.44,"y":2.77,"g":"n","v":2.0},
{"x":-0.42,"y":2.9,"g":"n","v":2.0},{"x":-0.3,"y":2.9,"g":"n","v":2.0},{"x":-0.18,"y":2.9,"g":"n","v":2.0},{"x":-0.06,"y":2.9,"g":"n","v":2.0},{"x":0.08,"y":2.9,"g":"n","v":2.0},{"x":0.2,"y":2.9,"g":"n","v":2.0},{"x":0.32,"y":2.9,"g":"n","v":2.0},{"x":0.44,"y":2.9,"g":"n","v":2.0},
{"x":-0.4,"y":3.03,"g":"n","v":2.0},{"x":-0.24,"y":3.03,"g":"n","v":2.0},{"x":-0.12,"y":3.03,"g":"n","v":2.0},{"x":-0.02,"y":3.03,"g":"n","v":2.0},{"x":0.12,"y":3.03,"g":"n","v":2.0},{"x":0.26,"y":3.03,"g":"n","v":2.0},{"x":0.38,"y":3.03,"g":"n","v":2.0},{"x":0.44,"y":3.03,"g":"n","v":2.0},
{"x":-0.38,"y":3.16,"g":"n","v":2.0},{"x":-0.25,"y":3.16,"g":"n","v":2.0},{"x":-0.12,"y":3.16,"g":"n","v":2.0},{"x":0.0,"y":3.16,"g":"n","v":2.0},{"x":0.13,"y":3.16,"g":"n","v":2.0},{"x":0.26,"y":3.16,"g":"n","v":2.0},{"x":0.38,"y":3.16,"g":"n","v":2.0},{"x":0.44,"y":3.16,"g":"n","v":2.0},
{"x":-0.35,"y":3.29,"g":"n","v":2.0},{"x":-0.22,"y":3.29,"g":"n","v":2.0},{"x":-0.1,"y":3.29,"g":"n","v":2.0},{"x":0.1,"y":3.29,"g":"n","v":2.0},{"x":0.22,"y":3.29,"g":"n","v":2.0},{"x":0.34,"y":3.29,"g":"n","v":2.0},{"x":0.44,"y":3.29,"g":"n","v":2.0},
{"x":-0.33,"y":3.42,"g":"n","v":2.0},{"x":-0.2,"y":3.42,"g":"n","v":2.0},{"x":-0.08,"y":3.42,"g":"n","v":2.0},{"x":0.12,"y":3.42,"g":"n","v":2.0},{"x":0.25,"y":3.42,"g":"n","v":2.0},{"x":0.38,"y":3.42,"g":"n","v":2.0},
{"x":-0.3,"y":3.55,"g":"n","v":2.0},{"x":-0.18,"y":3.55,"g":"n","v":2.0},{"x":-0.07,"y":3.55,"g":"n","v":2.0},{"x":0.15,"y":3.55,"g":"n","v":2.0},{"x":0.28,"y":3.55,"g":"n","v":2.0},{"x":0.4,"y":3.55,"g":"n","v":2.0},
{"x":-0.3,"y":3.68,"g":"n","v":2.0},{"x":-0.18,"y":3.68,"g":"n","v":2.0},{"x":-0.08,"y":3.68,"g":"n","v":2.0},{"x":0.2,"y":3.68,"g":"n","v":2.0},{"x":0.32,"y":3.68,"g":"n","v":2.0},
{"x":-0.28,"y":3.81,"g":"n","v":2.0},{"x":-0.15,"y":3.81,"g":"n","v":2.0},{"x":0.25,"y":3.81,"g":"n","v":2.0},{"x":0.35,"y":3.81,"g":"n","v":2.0},
{"x":-0.25,"y":3.94,"g":"n","v":1.8},{"x":-0.12,"y":3.94,"g":"n","v":1.8},{"x":0.15,"y":3.94,"g":"n","v":1.8},{"x":0.3,"y":3.94,"g":"n","v":1.8},{"x":0.4,"y":3.94,"g":"n","v":1.8},
{"x":-0.11,"y":4.02,"g":"n","v":1.2},{"x":-0.13,"y":4.22,"g":"n","v":1.2},{"x":-0.4,"y":4.36,"g":"n","v":1.2},{"x":-0.28,"y":4.42,"g":"n","v":1.2},{"x":-0.17,"y":4.42,"g":"n","v":1.2},{"x":0.17,"y":4.41,"g":"n","v":1.2},{"x":0.35,"y":4.41,"g":"n","v":1.2},{"x":-0.36,"y":4.57,"g":"n","v":1.2},{"x":0.33,"y":4.74,"g":"n","v":1.2},{"x":0.45,"y":4.74,"g":"n","v":1.2},{"x":0.19,"y":5.22,"g":"n","v":1.2},{"x":0.29,"y":5.22,"g":"n","v":1.2},{"x":0.09,"y":5.29,"g":"n","v":1.2},{"x":0.43,"y":5.44,"g":"n","v":1.2},{"x":0.35,"y":4.09,"g":"n","v":1.2},{"x":0.41,"y":4.02,"g":"n","v":1.2},{"x":0.09,"y":3.64,"g":"n","v":1.0},
{"x":-1.97,"y":1.05,"g":"n","v":0.9},{"x":-1.84,"y":1.22,"g":"n","v":0.9},{"x":-1.64,"y":0.84,"g":"n","v":0.7},{"x":-1.03,"y":0.51,"g":"n","v":0.6},{"x":-0.8,"y":0.23,"g":"n","v":0.5},{"x":-0.82,"y":0.94,"g":"n","v":1.2},{"x":-0.72,"y":0.83,"g":"n","v":1.2},{"x":-0.64,"y":0.75,"g":"n","v":1.2},{"x":-0.58,"y":0.64,"g":"n","v":1.0},{"x":-0.68,"y":0.49,"g":"n","v":0.9},{"x":-0.5,"y":0.33,"g":"n","v":0.9},{"x":1.57,"y":1.15,"g":"n","v":1.1},{"x":1.68,"y":0.92,"g":"n","v":1.1},{"x":2.57,"y":0.9,"g":"n","v":1.0},{"x":2.01,"y":0.41,"g":"n","v":0.7},{"x":4.05,"y":0.46,"g":"n","v":0.7},{"x":1.29,"y":0.79,"g":"n","v":1.1},{"x":1.14,"y":0.71,"g":"n","v":1.0},{"x":0.98,"y":0.81,"g":"n","v":1.2},{"x":0.96,"y":0.71,"g":"n","v":1.2},{"x":0.82,"y":0.64,"g":"n","v":1.2},{"x":0.85,"y":0.51,"g":"n","v":0.9},{"x":1.1,"y":0.58,"g":"n","v":0.9},{"x":1.19,"y":1.12,"g":"n","v":1.1},{"x":1.1,"y":1.02,"g":"n","v":1.1},{"x":-0.9,"y":1.0,"g":"n","v":1.1},{"x":-0.75,"y":1.2,"g":"n","v":1.1},
{"x":-0.69,"y":3.67,"g":"d","v":1.5},{"x":-0.7,"y":3.47,"g":"d","v":1.5},{"x":-0.74,"y":3.26,"g":"d","v":1.5},{"x":-1.17,"y":2.67,"g":"d","v":1.5},{"x":-0.64,"y":2.92,"g":"d","v":1.5},{"x":-0.56,"y":2.84,"g":"d","v":1.5},{"x":-0.52,"y":2.95,"g":"d","v":1.5},{"x":-0.54,"y":2.72,"g":"d","v":1.5},{"x":-0.56,"y":2.61,"g":"d","v":1.5},{"x":-0.89,"y":2.5,"g":"d","v":1.5},{"x":-0.78,"y":2.54,"g":"d","v":1.5},{"x":-0.68,"y":2.46,"g":"d","v":1.5},{"x":-0.82,"y":2.46,"g":"d","v":1.5},{"x":-0.7,"y":2.5,"g":"d","v":1.5},{"x":-0.6,"y":2.42,"g":"d","v":1.5},{"x":-0.64,"y":2.31,"g":"d","v":1.5},{"x":-0.56,"y":2.28,"g":"d","v":1.5},{"x":-0.93,"y":2.25,"g":"d","v":1.5},{"x":-1.03,"y":2.08,"g":"d","v":1.5},{"x":-0.68,"y":1.95,"g":"d","v":1.5},{"x":-0.64,"y":2.0,"g":"d","v":1.5},{"x":-0.54,"y":1.82,"g":"d","v":1.5},{"x":-0.64,"y":1.62,"g":"d","v":1.5},{"x":-0.56,"y":1.66,"g":"d","v":1.5},{"x":-0.56,"y":1.55,"g":"d","v":1.5},{"x":-0.84,"y":1.51,"g":"d","v":1.5},{"x":-0.95,"y":1.43,"g":"d","v":1.5},{"x":-0.86,"y":1.55,"g":"d","v":1.5},{"x":-0.64,"y":1.47,"g":"d","v":1.5},{"x":-0.6,"y":1.32,"g":"d","v":1.5},{"x":-0.66,"y":1.4,"g":"d","v":1.5},{"x":-0.52,"y":1.36,"g":"d","v":1.5},{"x":-0.55,"y":2.1,"g":"d","v":1.5},{"x":-0.6,"y":2.2,"g":"d","v":1.5},{"x":-0.7,"y":2.35,"g":"d","v":1.5},
{"x":0.58,"y":1.42,"g":"u","v":1.5},{"x":0.7,"y":1.42,"g":"u","v":1.5},{"x":0.82,"y":1.42,"g":"u","v":1.5},{"x":0.95,"y":1.42,"g":"u","v":1.5},{"x":1.08,"y":1.42,"g":"u","v":1.5},{"x":1.2,"y":1.42,"g":"u","v":1.5},
{"x":0.6,"y":1.55,"g":"u","v":1.5},{"x":0.72,"y":1.55,"g":"u","v":1.5},{"x":0.84,"y":1.55,"g":"u","v":1.5},{"x":0.98,"y":1.55,"g":"u","v":1.5},
{"x":0.56,"y":1.68,"g":"u","v":1.5},{"x":0.68,"y":1.68,"g":"u","v":1.5},{"x":0.8,"y":1.68,"g":"u","v":1.5},{"x":0.92,"y":1.68,"g":"u","v":1.5},{"x":1.05,"y":1.68,"g":"u","v":1.5},
{"x":0.6,"y":1.81,"g":"u","v":1.5},{"x":0.72,"y":1.81,"g":"u","v":1.5},{"x":0.84,"y":1.81,"g":"u","v":1.5},
{"x":0.56,"y":1.94,"g":"u","v":1.5},{"x":0.68,"y":1.94,"g":"u","v":1.5},{"x":0.8,"y":1.94,"g":"u","v":1.5},{"x":0.92,"y":1.94,"g":"u","v":1.5},
{"x":0.6,"y":2.07,"g":"u","v":1.5},{"x":0.72,"y":2.07,"g":"u","v":1.5},{"x":0.84,"y":2.07,"g":"u","v":1.5},{"x":0.98,"y":2.07,"g":"u","v":1.5},
{"x":0.56,"y":2.2,"g":"u","v":1.5},{"x":0.68,"y":2.2,"g":"u","v":1.5},{"x":0.8,"y":2.2,"g":"u","v":1.5},{"x":0.92,"y":2.2,"g":"u","v":1.5},
{"x":0.6,"y":2.33,"g":"u","v":1.5},{"x":0.72,"y":2.33,"g":"u","v":1.5},{"x":0.84,"y":2.33,"g":"u","v":1.5},{"x":0.95,"y":2.33,"g":"u","v":1.5},
{"x":0.56,"y":2.46,"g":"u","v":1.5},{"x":0.68,"y":2.46,"g":"u","v":1.5},{"x":0.8,"y":2.46,"g":"u","v":1.5},
{"x":0.6,"y":2.59,"g":"u","v":1.5},{"x":0.72,"y":2.59,"g":"u","v":1.5},{"x":0.84,"y":2.59,"g":"u","v":1.5},
{"x":0.56,"y":2.72,"g":"u","v":1.5},{"x":0.68,"y":2.72,"g":"u","v":1.5},
{"x":1.0,"y":6.48,"g":"u","v":1.5},{"x":0.54,"y":5.95,"g":"u","v":1.3},{"x":0.61,"y":5.06,"g":"u","v":1.4},{"x":0.95,"y":4.89,"g":"u","v":1.5},{"x":0.48,"y":4.85,"g":"u","v":1.3},{"x":0.82,"y":4.59,"g":"u","v":1.5},{"x":0.8,"y":4.45,"g":"u","v":1.5},{"x":0.54,"y":4.49,"g":"u","v":1.3},{"x":1.48,"y":4.43,"g":"u","v":1.5},{"x":0.58,"y":4.21,"g":"u","v":1.4},{"x":0.65,"y":4.11,"g":"u","v":1.4},{"x":0.88,"y":3.95,"g":"u","v":1.5},{"x":0.64,"y":3.73,"g":"u","v":1.4},{"x":0.62,"y":3.49,"g":"u","v":1.5},{"x":0.74,"y":3.42,"g":"u","v":1.5},{"x":0.58,"y":3.27,"g":"u","v":1.5},{"x":0.72,"y":3.2,"g":"u","v":1.5},{"x":0.5,"y":2.97,"g":"u","v":1.3},{"x":1.14,"y":3.01,"g":"u","v":1.5},{"x":0.98,"y":2.74,"g":"u","v":1.5},{"x":1.87,"y":2.77,"g":"u","v":1.5},{"x":1.77,"y":2.65,"g":"u","v":1.5},{"x":1.69,"y":2.51,"g":"u","v":1.5},{"x":1.91,"y":2.31,"g":"u","v":1.5},{"x":2.4,"y":2.42,"g":"u","v":1.5},{"x":1.12,"y":2.54,"g":"u","v":1.5},{"x":1.17,"y":2.5,"g":"u","v":1.5},{"x":0.9,"y":2.5,"g":"u","v":1.5},{"x":1.43,"y":2.08,"g":"u","v":1.5},{"x":1.55,"y":1.94,"g":"u","v":1.5},{"x":1.73,"y":1.83,"g":"u","v":1.5},{"x":1.83,"y":1.72,"g":"u","v":1.5},{"x":1.06,"y":2.12,"g":"u","v":1.5},{"x":1.12,"y":1.75,"g":"u","v":1.5},{"x":1.23,"y":1.4,"g":"u","v":1.5},{"x":1.02,"y":1.47,"g":"u","v":1.5},{"x":1.0,"y":2.3,"g":"u","v":1.5},{"x":1.05,"y":1.9,"g":"u","v":1.5},{"x":1.1,"y":1.6,"g":"u","v":1.5}
]
},
"spacing": 41,
"resolve": {"scale": {"x": "independent", "y": "independent", "color": "independent", "size": "independent"}, "legend": {"color": "independent", "size": "independent"}},
"vconcat": [
{
  "width": 590, "height": 305,
  "title": {"text": "A", "anchor": "start", "frame": "group", "offset": -30, "dx": 12, "font": "Liberation Serif", "fontSize": 27, "fontWeight": "normal", "color": "#1a1a1a"},
  "layer": [
    {
      "data": {"name": "a"},
      "mark": {"type": "point", "shape": "M-1,0A1,0.47,0,1,0,1,0A1,0.47,0,1,0,-1,0Z", "filled": true, "opacity": 1, "strokeWidth": 0},
      "encoding": {
        "x": {"field": "x", "type": "quantitative", "scale": {"domain": [-6, 6], "nice": false, "zero": false}, "axis": {"values": [-6, -4, -2, 0, 2, 4, 6], "title": "log₂ FC", "labelExpr": "datum.value < 0 ? '—' + format(-datum.value, 'd') : format(datum.value, 'd')"}},
        "y": {"field": "y", "type": "quantitative", "scale": {"domain": [0, 14], "nice": false}, "axis": {"values": [0, 2, 4, 6, 8, 10, 12, 14], "title": "—lg 𝑃"}},
        "color": {"field": "g", "type": "nominal", "scale": {"domain": ["u", "n", "d"], "range": ["#e6202a", "#959597", "#1f4b9d"]}, "legend": {"title": " ", "titleFontSize": 10, "titlePadding": 15, "orient": "right", "offset": 9, "padding": 0, "symbolType": "circle", "symbolSize": 314, "symbolStrokeWidth": 0, "symbolOpacity": 1, "labelOffset": 4, "rowPadding": 11, "labelExpr": "datum.value == 'u' ? '显著上调（79）' : datum.value == 'n' ? '不显著（6 048）' : '显著下调（342）'"}},
        "size": {"field": "v", "type": "quantitative", "scale": {"domain": [0, 3.4], "range": [8, 300], "zero": false}, "legend": {"title": "VIP", "orient": "right", "offset": 9, "padding": 2, "values": [0, 1.1, 2.2, 3.4], "format": ".1f", "labelFontSize": 24, "symbolType": "M-0.69,0A0.69,0.69,0,1,0,0.69,0A0.69,0.69,0,1,0,-0.69,0Z", "symbolOffset": 0, "labelOffset": 1, "rowPadding": 2, "titlePadding": 0, "encode": {"symbols": {"update": {"fill": {"value": "#1a1a1a"}, "stroke": {"value": "transparent"}, "opacity": {"value": 1}}}}}}
      }
    },
    {
      "data": {"values": [{"t": -0.5}, {"t": 0.7}]},
      "mark": {"type": "rule", "strokeDash": [8, 5], "strokeWidth": 2.2, "color": "#1a1a1a"},
      "encoding": {"x": {"field": "t", "type": "quantitative"}}
    },
    {
      "data": {"values": [{"t": 1.3}]},
      "mark": {"type": "rule", "strokeDash": [8, 5], "strokeWidth": 2.2, "color": "#1a1a1a"},
      "encoding": {"y": {"field": "t", "type": "quantitative"}}
    }
  ]
},
{
  "width": 589, "height": 307,
  "title": {"text": "B", "anchor": "start", "frame": "group", "offset": -33, "dx": 20, "font": "Liberation Serif", "fontSize": 27, "fontWeight": "normal", "color": "#1a1a1a"},
  "layer": [
    {
      "data": {"name": "b"},
      "mark": {"type": "point", "shape": "M-1,0A1,0.47,0,1,0,1,0A1,0.47,0,1,0,-1,0Z", "filled": true, "opacity": 1, "strokeWidth": 0},
      "encoding": {
        "x": {"field": "x", "type": "quantitative", "scale": {"domain": [-2.17, 5], "nice": false, "zero": false}, "axis": {"values": [-2, -1, 0, 1, 2, 3, 4, 5], "title": "log₂ FC", "labelExpr": "datum.value < 0 ? '—' + format(-datum.value, 'd') : format(datum.value, 'd')"}},
        "y": {"field": "y", "type": "quantitative", "scale": {"domain": [0, 7], "nice": false}, "axis": {"values": [0, 1, 2, 3, 4, 5, 6, 7], "title": "—lg 𝑃"}},
        "color": {"field": "g", "type": "nominal", "scale": {"domain": ["u", "n", "d"], "range": ["#e6202a", "#959597", "#1f4b9d"]}, "legend": {"title": " ", "titleFontSize": 10, "titlePadding": 19, "orient": "right", "offset": 9, "padding": 0, "symbolType": "circle", "symbolSize": 314, "symbolStrokeWidth": 0, "symbolOpacity": 1, "labelOffset": 4, "rowPadding": 11, "labelExpr": "datum.value == 'u' ? '显著上调（205）' : datum.value == 'n' ? '不显著（6 220）' : '显著下调（44）'"}},
        "size": {"field": "v", "type": "quantitative", "scale": {"domain": [0, 2.7], "range": [8, 300], "zero": false}, "legend": {"title": "VIP", "orient": "right", "offset": 9, "padding": 2, "values": [0, 0.9, 1.8, 2.7], "format": ".1f", "labelFontSize": 24, "symbolType": "M-0.69,0A0.69,0.69,0,1,0,0.69,0A0.69,0.69,0,1,0,-0.69,0Z", "symbolOffset": 0, "labelOffset": 1, "rowPadding": 2, "titlePadding": 4, "encode": {"symbols": {"update": {"fill": {"value": "#1a1a1a"}, "stroke": {"value": "transparent"}, "opacity": {"value": 1}}}}}}
      }
    },
    {
      "data": {"values": [{"t": -0.5}, {"t": 0.5}]},
      "mark": {"type": "rule", "strokeDash": [7, 5], "strokeWidth": 1.8, "color": "#1a1a1a"},
      "encoding": {"x": {"field": "t", "type": "quantitative"}}
    },
    {
      "data": {"values": [{"t": 1.3}]},
      "mark": {"type": "rule", "strokeDash": [7, 5], "strokeWidth": 1.8, "color": "#1a1a1a"},
      "encoding": {"y": {"field": "t", "type": "quantitative"}}
    }
  ]
}
]
}
